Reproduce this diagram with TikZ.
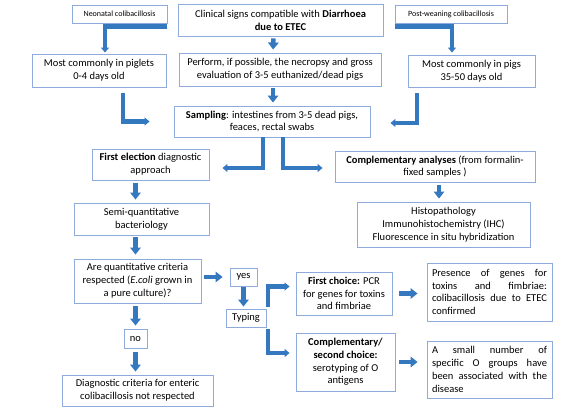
\documentclass[tikz,border=0pt]{standalone}
\usepackage{fontspec}
\setmainfont{Carlito}
\usetikzlibrary{arrows.meta}
\definecolor{arrowblue}{RGB}{52,120,192}
\definecolor{boxline}{RGB}{143,170,220}
\begin{document}
\begin{tikzpicture}[x=1pt, y=-1pt,
	box/.style={draw=boxline, line width=0.9pt, align=center, inner sep=2pt, font=\fontsize{10.5}{12.8}\selectfont},
	small box/.style={box, font=\fontsize{8}{10}\selectfont},
	just box/.style={box, align=left, text width=115pt, inner xsep=5pt, inner ysep=2pt},
	block arrow/.style={line width=4.5pt, draw=arrowblue, -{Triangle[width=10.5pt,length=7pt]}},
	bend arrow/.style={line width=4.5pt, draw=arrowblue, -{Triangle[width=8pt,length=5pt]}}]
		\useasboundingbox (0,0) rectangle (567,412);
		% top row
		\node[small box, minimum width=95pt, minimum height=18pt] (neo) at (119.5,14) {Neonatal colibacillosis};
		\node[box, minimum width=205pt, minimum height=32pt] (clin) at (280.5,20) {Clinical signs compatible with \textbf{Diarrhoea}\\\textbf{due to ETEC}};
		\node[small box, minimum width=112pt, minimum height=18pt] (post) at (451,14) {Post-weaning colibacillosis};
		\node[box, minimum width=134pt, minimum height=33pt] (piglets) at (99,70.5) {Most commonly in piglets\\0-4 days old};
		\node[box, minimum width=202pt, minimum height=33pt] (perform) at (280,69.5) {Perform, if possible, the necropsy and gross\\evaluation of 3-5 euthanized/dead pigs};
		\node[box, minimum width=127pt, minimum height=32pt] (pigs) at (471.5,71) {Most commonly in pigs\\35-50 days old};
		\node[box, minimum width=196pt, minimum height=31pt] (samp) at (272,121.5) {\textbf{Sampling}: intestines from 3-5 dead pigs,\\feaces, rectal swabs};
		% two branches
		\node[box, minimum width=117pt, minimum height=31pt] (first) at (150.5,164.5) {\textbf{First election} diagnostic\\approach};
		\node[box, minimum width=200pt, minimum height=31pt] (compl) at (435,166.5) {\textbf{Complementary analyses} (from formalin-\\fixed samples )};
		\node[box, minimum width=173pt, minimum height=45pt] (histo) at (443.5,224.5) {Histopathology\\Immunohistochemistry (IHC)\\Fluorescence in situ hybridization};
		\node[box, minimum width=135pt, minimum height=32pt] (semi) at (141.5,219) {Semi-quantitative\\bacteriology};
		\node[box, minimum width=127pt, minimum height=44pt] (quant) at (137.5,281) {Are quantitative criteria\\respected (\textit{E.coli} grown in\\a pure culture)?};
		\node[box, minimum width=27pt, minimum height=18pt] (yes) at (243.5,277) {yes};
		\node[box, minimum width=40pt, minimum height=18pt] (typing) at (246,318) {Typing};
		\node[box, minimum width=23pt, minimum height=19pt] (no) at (135.5,338.5) {no};
		\node[box, minimum width=151pt, minimum height=31pt] (diag) at (137.5,390.5) {Diagnostic criteria for enteric\\colibacillosis not respected};
		% typing
		\node[box, minimum width=96pt, minimum height=43pt] (pcr) at (344,293.5) {\textbf{First choice:} PCR\\for genes for toxins\\and fimbriae};
		\node[box, minimum width=99pt, minimum height=58pt] (second) at (345.5,362) {\textbf{Complementary/}\\\textbf{second choice:}\\serotyping of O\\antigens};
		\node[just box, minimum height=58pt] (presence) at (489.5,292) {Presence\hfill of\hfill genes\hfill for\\toxins\hfill and\hfill fimbriae:\\colibacillosis\hfill due\hfill to\hfill ETEC\\confirmed};
		\node[just box, minimum height=57pt] (onum) at (489.5,369.5) {A\hfill small\hfill number\hfill of\\specific\hfill O\hfill groups\hfill have\\been\hfill associated\hfill with\hfill the\\disease};
		% bent arrows
		\draw[bend arrow] ([yshift=-3pt]neo.south east) -| ([xshift=6pt,yshift=1pt]piglets.north);
		\draw[bend arrow] ([yshift=-3pt]post.south west) -| ([xshift=-19.5pt,yshift=2pt]pigs.north);
		\draw[bend arrow] ([xshift=24pt,yshift=-6pt]piglets.south) |- ([xshift=-24pt]samp.west);
		\draw[bend arrow] ([xshift=-54.5pt,yshift=-6pt]pigs.south) |- ([xshift=20pt,yshift=-1.5pt]samp.east);
		\draw[bend arrow] ([xshift=-9pt]samp.south) |- ([xshift=13pt,yshift=-3.5pt]first.east);
		\draw[bend arrow] ([xshift=11pt]samp.south) |- ([xshift=-12pt,yshift=-1.5pt]compl.west);
		\draw[bend arrow] ([xshift=1.5pt,yshift=2pt]typing.north east) |- ([xshift=-6pt,yshift=7pt]pcr.west);
		\draw[bend arrow] ([xshift=1.5pt,yshift=-2pt]typing.south east) |- ([xshift=-6pt,yshift=9pt]second.west);
		% block arrows
		\draw[block arrow, shorten <=2pt, shorten >=3pt] ([xshift=-7pt]clin.south) -- ([xshift=-7pt]perform.north);
		\draw[block arrow, shorten <=2pt, shorten >=3pt] ([xshift=-7pt]perform.south) -- ([xshift=-7pt]perform.south |- samp.north);
		\draw[block arrow, shorten <=3pt, shorten >=3pt] ([xshift=4pt]compl.south) -- ([xshift=4pt]compl.south |- histo.north);
		\draw[block arrow, shorten <=3pt, shorten >=3pt] (first.south -| no.north) -- (semi.north -| no.north);
		\draw[block arrow, shorten <=2pt, shorten >=4pt] (semi.south -| no.north) -- (quant.north -| no.north);
		\draw[block arrow, shorten <=3pt, shorten >=3pt] (quant.south -| no.north) -- (no.north);
		\draw[block arrow, shorten <=4pt, shorten >=3pt] (no.south) -- (diag.north -| no.north);
		\draw[block arrow, shorten <=3pt, shorten >=7pt] (quant.east |- yes.west) -- (yes.west);
		\draw[block arrow, shorten <=1pt, shorten >=2pt] (yes.south) -- (yes.south |- typing.north);
		\draw[block arrow, shorten <=7pt, shorten >=9pt] (pcr.east) -- (pcr.east -| presence.west);
		\draw[block arrow, shorten <=4pt, shorten >=9pt] (second.east) -- (second.east -| onum.west);
\end{tikzpicture}
\end{document}
